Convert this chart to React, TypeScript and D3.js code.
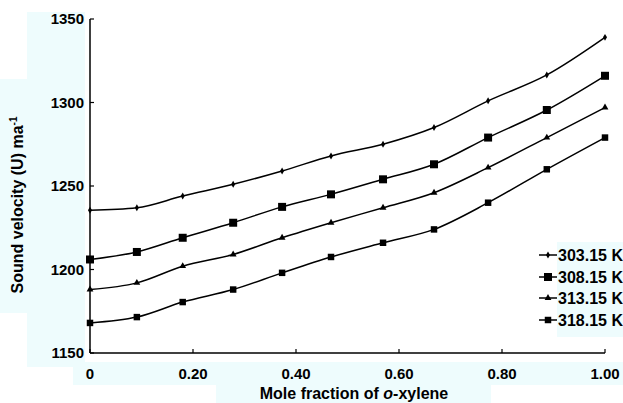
import { scaleLinear, line, curveMonotoneX, symbol, symbolSquare, symbolTriangle, symbolDiamond } from "d3";

const xFractions = [0, 0.091, 0.18, 0.278, 0.373, 0.468, 0.569, 0.668, 0.773, 0.887, 1.0];
const u303 = [1235.5, 1237, 1244, 1251, 1259, 1268, 1275, 1285, 1301, 1316.5, 1339];
const u308 = [1206, 1210.5, 1219, 1228, 1237.5, 1245, 1254, 1263, 1279, 1295.5, 1316];
const u313 = [1188, 1192, 1202, 1209, 1219, 1228, 1237, 1246, 1261, 1279, 1297];
const u318 = [1168, 1171.5, 1180.5, 1188, 1198, 1207.5, 1216, 1224, 1240, 1260, 1279];
const seriesNames = ["303.15 K", "308.15 K", "313.15 K", "318.15 K"];
const yTicks = [1150, 1200, 1250, 1300, 1350];
const xTicks = [0, 0.2, 0.4, 0.6, 0.8, 1.0];
const xTickLabels = ["0", "0.20", "0.40", "0.60", "0.80", "1.00"];

const W = 623;
const H = 403;
const FONT = "'Liberation Sans', Arial, Helvetica, sans-serif";
const BG = "#eefcfd";

// marker shape + size per series
const markers = [
  { type: symbolDiamond, size: 14 },
  { type: symbolSquare, size: 64 },
  { type: symbolTriangle, size: 20 },
  { type: symbolSquare, size: 42 },
];

const App = () => {
  const x = scaleLinear().domain([0, 1]).range([90, 605]);
  const y = scaleLinear().domain([1150, 1350]).range([353, 19]);

  const series = [u303, u308, u313, u318];
  const path = line<number>()
    .x((_, i) => x(xFractions[i]))
    .y((d) => y(d))
    .curve(curveMonotoneX);

  const legendY = [255, 277, 298, 320];

  return (
    <div style={{ position: "fixed", left: 0, top: 0 }}>
      <svg width={W} height={H} style={{ display: "block", background: "#fff" }} fontFamily={FONT} fontWeight="bold">
        {/* light cyan text boxes from the scanned figure */}
        <rect x={27} y={12} width={58} height={355} fill={BG} />
        <rect x={0} y={79} width={27} height={234} fill={BG} />
        <rect x={73} y={362} width={550} height={23} fill={BG} />
        <rect x={216} y={385} width={275} height={18} fill={BG} />
        <rect x={557} y={242} width={66} height={95} fill={BG} />

        {/* axes */}
        <line x1={x(0)} x2={x(0)} y1={y(1350)} y2={y(1150)} stroke="#000" strokeWidth={1.5} />
        <line x1={x(0)} x2={x(1)} y1={y(1150)} y2={y(1150)} stroke="#000" strokeWidth={1.5} />
        {yTicks.map((t) => (
          <g key={`yt-${t}`}>
            <line x1={x(0)} x2={x(0) + 4} y1={y(t)} y2={y(t)} stroke="#000" strokeWidth={1.2} />
            <text x={84} y={y(t)} dy="0.36em" textAnchor="end" fontSize={15}>
              {t}
            </text>
          </g>
        ))}
        {xTicks.map((t, i) => (
          <g key={`xt-${t}`}>
            <line x1={x(t)} x2={x(t)} y1={y(1150)} y2={y(1150) - 4} stroke="#000" strokeWidth={1.2} />
            <text x={x(t)} y={379} textAnchor="middle" fontSize={15}>
              {xTickLabels[i]}
            </text>
          </g>
        ))}

        {/* axis titles */}
        <text x={354} y={399} textAnchor="middle" fontSize={16}>
          Mole fraction of <tspan fontStyle="italic">o</tspan>-xylene
        </text>
        <text transform="translate(23,205) rotate(-90)" textAnchor="middle" fontSize={16}>
          Sound velocity (U) ma<tspan fontSize={10} dy={-6}>-1</tspan>
        </text>

        {/* series */}
        {series.map((s, k) => (
          <g key={`s-${k}`}>
            <path d={path(s)!} fill="none" stroke="#000" strokeWidth={1.5} />
            {s.map((v, i) => (
              <path
                key={`m-${k}-${i}`}
                d={symbol(markers[k].type, markers[k].size)()!}
                transform={`translate(${x(xFractions[i])},${y(v)})`}
                fill="#000"
              />
            ))}
          </g>
        ))}

        {/* legend */}
        {seriesNames.map((name, k) => (
          <g key={`lg-${k}`}>
            <line x1={539} x2={557} y1={legendY[k]} y2={legendY[k]} stroke="#000" strokeWidth={1.5} />
            <path d={symbol(markers[k].type, markers[k].size)()!} transform={`translate(548,${legendY[k]})`} fill="#000" />
            <text x={558} y={legendY[k]} dy="0.36em" fontSize={16}>
              {name}
            </text>
          </g>
        ))}
      </svg>
    </div>
  );
};

export default App;
